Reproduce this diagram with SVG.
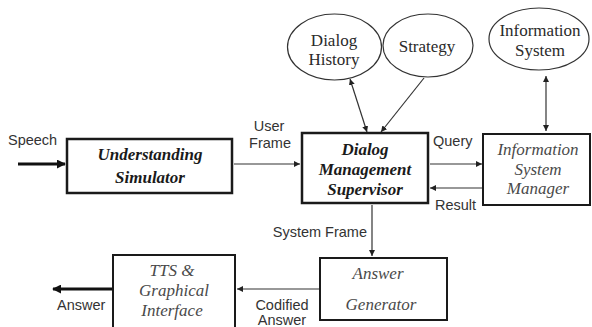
<svg xmlns="http://www.w3.org/2000/svg" width="592" height="327" viewBox="0 0 592 327">
  <style>
    .box-strong { fill: #ffffff; stroke: #1a1a1a; stroke-width: 2.5; }
    .box-light { fill: #ffffff; stroke: #1a1a1a; stroke-width: 2; }
    .store { fill: #ffffff; stroke: #333333; stroke-width: 1.2; }
    .title-b { font-family: "Liberation Serif", "Times New Roman", serif; font-size: 17px; font-weight: bold; font-style: italic; fill: #1a1a1a; text-anchor: middle; }
    .title-i { font-family: "Liberation Serif", "Times New Roman", serif; font-size: 17px; font-style: italic; fill: #4a4a4a; text-anchor: middle; }
    .store-t { font-family: "Liberation Serif", "Times New Roman", serif; font-size: 17px; fill: #2a2a2a; text-anchor: middle; }
    .lbl { font-family: "Liberation Sans", Arial, sans-serif; font-size: 14.5px; fill: #333333; }
    .thin { fill: none; stroke: #333333; stroke-width: 1.2; }
    .thick { fill: none; stroke: #111111; stroke-width: 3; }
  </style>
  <defs>
    <marker id="arr" viewBox="0 0 10 10" refX="10" refY="5" markerWidth="6" markerHeight="6" markerUnits="userSpaceOnUse" orient="auto-start-reverse">
      <path d="M0,0 L10,5 L0,10 z" fill="#222222"/>
    </marker>
    <marker id="arrBig" viewBox="0 0 10 10" refX="9" refY="5" markerWidth="9" markerHeight="9" markerUnits="userSpaceOnUse" orient="auto-start-reverse">
      <path d="M0,0 L10,5 L0,10 z" fill="#111111"/>
    </marker>
  </defs>

  <rect width="592" height="327" fill="#ffffff"/>

  <!-- connectors -->
  <g id="connectors">
    <line class="thick" x1="18" y1="164" x2="65" y2="164" marker-end="url(#arrBig)"/>
    <line class="thin" x1="234" y1="164" x2="300" y2="164" marker-end="url(#arr)"/>
    <line class="thin" x1="350" y1="79" x2="367" y2="132" marker-start="url(#arr)" marker-end="url(#arr)"/>
    <line class="thin" x1="424" y1="78" x2="381" y2="132" marker-end="url(#arr)"/>
    <line class="thin" x1="546" y1="76" x2="546" y2="131" marker-start="url(#arr)" marker-end="url(#arr)"/>
    <line class="thin" x1="430" y1="164" x2="482" y2="164" marker-end="url(#arr)"/>
    <line class="thin" x1="482" y1="188" x2="430" y2="188" marker-end="url(#arr)"/>
    <line class="thin" x1="372" y1="205" x2="372" y2="256" marker-end="url(#arr)"/>
    <line class="thin" x1="319" y1="289" x2="237" y2="289" marker-end="url(#arr)"/>
    <line class="thick" x1="112" y1="289" x2="53" y2="289" marker-end="url(#arrBig)"/>

    <text class="lbl" x="8" y="145">Speech</text>
    <text class="lbl" x="269" y="131" text-anchor="middle">User</text>
    <text class="lbl" x="270" y="148" text-anchor="middle">Frame</text>
    <text class="lbl" x="433" y="146">Query</text>
    <text class="lbl" x="435" y="210">Result</text>
    <text class="lbl" x="367" y="237" text-anchor="end">System Frame</text>
    <text class="lbl" x="282" y="310" text-anchor="middle">Codified</text>
    <text class="lbl" x="282" y="325" text-anchor="middle">Answer</text>
    <text class="lbl" x="57" y="310">Answer</text>
  </g>

  <g id="dialog-history">
    <ellipse class="store" cx="334.5" cy="47" rx="47" ry="33"/>
    <text class="store-t" x="334" y="46">Dialog</text>
    <text class="store-t" x="334" y="65">History</text>
  </g>

  <g id="strategy">
    <ellipse class="store" cx="428" cy="45.5" rx="45" ry="31.5"/>
    <text class="store-t" x="427" y="52">Strategy</text>
  </g>

  <g id="information-system">
    <ellipse class="store" cx="539" cy="39" rx="50" ry="31"/>
    <text class="store-t" x="540" y="36">Information</text>
    <text class="store-t" x="540" y="56">System</text>
  </g>

  <g id="understanding-simulator">
    <rect class="box-strong" x="67" y="139" width="165" height="54"/>
    <text class="title-b" x="150" y="160">Understanding</text>
    <text class="title-b" x="150" y="183">Simulator</text>
  </g>

  <g id="dialog-management-supervisor">
    <rect class="box-strong" x="302" y="133" width="126" height="70"/>
    <text class="title-b" x="365" y="155">Dialog</text>
    <text class="title-b" x="365" y="175">Management</text>
    <text class="title-b" x="365" y="195">Supervisor</text>
  </g>

  <g id="information-system-manager">
    <rect class="box-light" x="483" y="134" width="107" height="71"/>
    <text class="title-i" x="538" y="155">Information</text>
    <text class="title-i" x="538" y="175">System</text>
    <text class="title-i" x="538" y="194">Manager</text>
  </g>

  <g id="answer-generator">
    <rect class="box-light" x="320" y="258" width="127" height="62"/>
    <text class="title-i" x="378" y="279">Answer</text>
    <text class="title-i" x="381" y="310">Generator</text>
  </g>

  <g id="tts-interface">
    <rect class="box-light" x="113" y="255" width="122" height="73"/>
    <text class="title-i" x="172" y="276">TTS &amp;</text>
    <text class="title-i" x="174" y="296">Graphical</text>
    <text class="title-i" x="172" y="316">Interface</text>
  </g>
</svg>
